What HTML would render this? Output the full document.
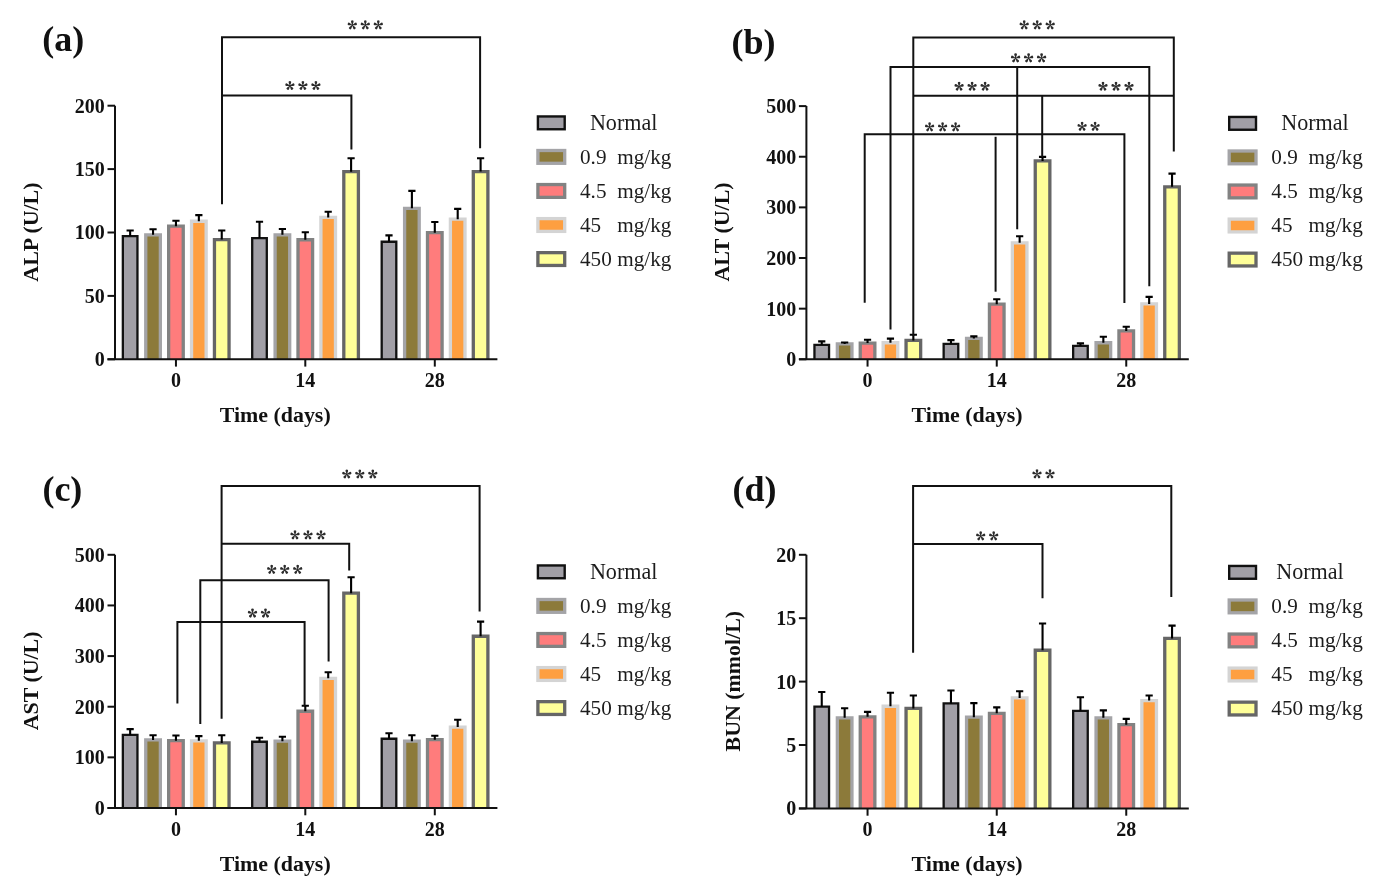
<!DOCTYPE html>
<html><head><meta charset="utf-8"><style>
html,body{margin:0;padding:0;background:#fff;-webkit-font-smoothing:antialiased;}
svg{display:block;will-change:transform;}
text{font-family:"Liberation Serif",serif;fill:#111;}
.tk{font-weight:bold;font-size:20px;}
.lab{font-weight:bold;font-size:21.9px;}
.ttl{font-weight:bold;font-size:36px;}
.lg{font-size:21.2px;fill:#1c1c1c;}
.lgn{font-size:22.1px;fill:#1c1c1c;}
</style></head><body>
<svg width="1384" height="887" viewBox="0 0 1384 887">
<rect width="1384" height="887" fill="#fff"/>
<path d="M122.85,359.30V236.05H137.45V359.30" fill="#a19fa6" stroke="#111111" stroke-width="2.3"/>
<path d="M145.75,359.30V234.85H160.35V359.30" fill="#8c7a3a" stroke="#a4a4a7" stroke-width="3.3"/>
<path d="M168.65,359.30V226.15H183.25V359.30" fill="#ff7c7c" stroke="#828282" stroke-width="3.3"/>
<path d="M191.55,359.30V221.25H206.15V359.30" fill="#fe9f40" stroke="#d4d4d4" stroke-width="3.3"/>
<path d="M214.45,359.30V239.55H229.05V359.30" fill="#ffff99" stroke="#666666" stroke-width="3.3"/>
<path d="M252.20,359.30V238.05H266.80V359.30" fill="#a19fa6" stroke="#111111" stroke-width="2.3"/>
<path d="M275.10,359.30V234.85H289.70V359.30" fill="#8c7a3a" stroke="#a4a4a7" stroke-width="3.3"/>
<path d="M298.00,359.30V239.75H312.60V359.30" fill="#ff7c7c" stroke="#828282" stroke-width="3.3"/>
<path d="M320.90,359.30V217.45H335.50V359.30" fill="#fe9f40" stroke="#d4d4d4" stroke-width="3.3"/>
<path d="M343.80,359.30V171.65H358.40V359.30" fill="#ffff99" stroke="#666666" stroke-width="3.3"/>
<path d="M381.70,359.30V241.75H396.30V359.30" fill="#a19fa6" stroke="#111111" stroke-width="2.3"/>
<path d="M404.60,359.30V208.35H419.20V359.30" fill="#8c7a3a" stroke="#a4a4a7" stroke-width="3.3"/>
<path d="M427.50,359.30V232.65H442.10V359.30" fill="#ff7c7c" stroke="#828282" stroke-width="3.3"/>
<path d="M450.40,359.30V219.15H465.00V359.30" fill="#fe9f40" stroke="#d4d4d4" stroke-width="3.3"/>
<path d="M473.30,359.30V171.55H487.90V359.30" fill="#ffff99" stroke="#666666" stroke-width="3.3"/>
<path d="M130.15,236.05V230.50M126.55,230.50H133.75" stroke="#000" stroke-width="2.1" fill="none"/>
<path d="M153.05,234.85V229.30M149.45,229.30H156.65" stroke="#000" stroke-width="2.1" fill="none"/>
<path d="M175.95,226.15V220.80M172.35,220.80H179.55" stroke="#000" stroke-width="2.1" fill="none"/>
<path d="M198.85,221.25V215.10M195.25,215.10H202.45" stroke="#000" stroke-width="2.1" fill="none"/>
<path d="M221.75,239.55V230.50M218.15,230.50H225.35" stroke="#000" stroke-width="2.1" fill="none"/>
<path d="M259.50,238.05V221.70M255.90,221.70H263.10" stroke="#000" stroke-width="2.1" fill="none"/>
<path d="M282.40,234.85V229.00M278.80,229.00H286.00" stroke="#000" stroke-width="2.1" fill="none"/>
<path d="M305.30,239.75V232.20M301.70,232.20H308.90" stroke="#000" stroke-width="2.1" fill="none"/>
<path d="M328.20,217.45V211.80M324.60,211.80H331.80" stroke="#000" stroke-width="2.1" fill="none"/>
<path d="M351.10,171.65V158.30M347.50,158.30H354.70" stroke="#000" stroke-width="2.1" fill="none"/>
<path d="M389.00,241.75V235.40M385.40,235.40H392.60" stroke="#000" stroke-width="2.1" fill="none"/>
<path d="M411.90,208.35V190.90M408.30,190.90H415.50" stroke="#000" stroke-width="2.1" fill="none"/>
<path d="M434.80,232.65V222.00M431.20,222.00H438.40" stroke="#000" stroke-width="2.1" fill="none"/>
<path d="M457.70,219.15V208.90M454.10,208.90H461.30" stroke="#000" stroke-width="2.1" fill="none"/>
<path d="M480.60,171.55V158.30M477.00,158.30H484.20" stroke="#000" stroke-width="2.1" fill="none"/>
<path d="M115.00,105.70V359.30M107.50,359.30H497.40" stroke="#111" stroke-width="2.0" fill="none"/>
<path d="M107.50,359.30H115.00" stroke="#111" stroke-width="2.0"/>
<text x="104.80" y="366.20" text-anchor="end" class="tk">0</text>
<path d="M107.50,295.90H115.00" stroke="#111" stroke-width="2.0"/>
<text x="104.80" y="302.80" text-anchor="end" class="tk">50</text>
<path d="M107.50,232.50H115.00" stroke="#111" stroke-width="2.0"/>
<text x="104.80" y="239.40" text-anchor="end" class="tk">100</text>
<path d="M107.50,169.10H115.00" stroke="#111" stroke-width="2.0"/>
<text x="104.80" y="176.00" text-anchor="end" class="tk">150</text>
<path d="M107.50,105.70H115.00" stroke="#111" stroke-width="2.0"/>
<text x="104.80" y="112.60" text-anchor="end" class="tk">200</text>
<path d="M175.95,359.30V366.60" stroke="#111" stroke-width="2.0"/>
<text x="175.95" y="386.90" text-anchor="middle" class="tk">0</text>
<path d="M305.30,359.30V366.60" stroke="#111" stroke-width="2.0"/>
<text x="305.30" y="386.90" text-anchor="middle" class="tk">14</text>
<path d="M434.80,359.30V366.60" stroke="#111" stroke-width="2.0"/>
<text x="434.80" y="386.90" text-anchor="middle" class="tk">28</text>
<path d="M222.00,204.20L222.00,37.20L480.10,37.20L480.10,148.30" stroke="#111" stroke-width="2" fill="none" stroke-linejoin="miter"/>
<path d="M222.00,95.60L351.40,95.60L351.40,149.60" stroke="#111" stroke-width="2" fill="none" stroke-linejoin="miter"/>
<path d="M352.45,25.15L353.53,22.08A1.3,1.3 0 1 0 351.07,22.08L352.15,25.15ZM352.35,25.29L355.60,25.37A1.3,1.3 0 1 0 354.84,23.03L352.25,25.01ZM352.18,25.24L353.11,28.36A1.3,1.3 0 1 0 355.10,26.91L352.42,25.06ZM352.18,25.06L349.50,26.91A1.3,1.3 0 1 0 351.49,28.36L352.42,25.24ZM352.35,25.01L349.76,23.03A1.3,1.3 0 1 0 349.00,25.37L352.25,25.29ZM365.45,25.15L366.53,22.08A1.3,1.3 0 1 0 364.07,22.08L365.15,25.15ZM365.35,25.29L368.60,25.37A1.3,1.3 0 1 0 367.84,23.03L365.25,25.01ZM365.18,25.24L366.11,28.36A1.3,1.3 0 1 0 368.10,26.91L365.42,25.06ZM365.18,25.06L362.50,26.91A1.3,1.3 0 1 0 364.49,28.36L365.42,25.24ZM365.35,25.01L362.76,23.03A1.3,1.3 0 1 0 362.00,25.37L365.25,25.29ZM378.45,25.15L379.53,22.08A1.3,1.3 0 1 0 377.07,22.08L378.15,25.15ZM378.35,25.29L381.60,25.37A1.3,1.3 0 1 0 380.84,23.03L378.25,25.01ZM378.18,25.24L379.11,28.36A1.3,1.3 0 1 0 381.10,26.91L378.42,25.06ZM378.18,25.06L375.50,26.91A1.3,1.3 0 1 0 377.49,28.36L378.42,25.24ZM378.35,25.01L375.76,23.03A1.3,1.3 0 1 0 375.00,25.37L378.25,25.29Z" fill="#2c2c2c"/>
<path d="M290.05,85.75L291.13,82.68A1.3,1.3 0 1 0 288.67,82.68L289.75,85.75ZM289.95,85.89L293.20,85.97A1.3,1.3 0 1 0 292.44,83.63L289.85,85.61ZM289.78,85.84L290.71,88.96A1.3,1.3 0 1 0 292.70,87.51L290.02,85.66ZM289.78,85.66L287.10,87.51A1.3,1.3 0 1 0 289.09,88.96L290.02,85.84ZM289.95,85.61L287.36,83.63A1.3,1.3 0 1 0 286.60,85.97L289.85,85.89ZM303.05,85.75L304.13,82.68A1.3,1.3 0 1 0 301.67,82.68L302.75,85.75ZM302.95,85.89L306.20,85.97A1.3,1.3 0 1 0 305.44,83.63L302.85,85.61ZM302.78,85.84L303.71,88.96A1.3,1.3 0 1 0 305.70,87.51L303.02,85.66ZM302.78,85.66L300.10,87.51A1.3,1.3 0 1 0 302.09,88.96L303.02,85.84ZM302.95,85.61L300.36,83.63A1.3,1.3 0 1 0 299.60,85.97L302.85,85.89ZM316.05,85.75L317.13,82.68A1.3,1.3 0 1 0 314.67,82.68L315.75,85.75ZM315.95,85.89L319.20,85.97A1.3,1.3 0 1 0 318.44,83.63L315.85,85.61ZM315.78,85.84L316.71,88.96A1.3,1.3 0 1 0 318.70,87.51L316.02,85.66ZM315.78,85.66L313.10,87.51A1.3,1.3 0 1 0 315.09,88.96L316.02,85.84ZM315.95,85.61L313.36,83.63A1.3,1.3 0 1 0 312.60,85.97L315.85,85.89Z" fill="#2c2c2c"/>
<text x="42.30" y="51.30" class="ttl">(a)</text>
<text transform="translate(38.30,232.10) rotate(-90)" text-anchor="middle" class="lab">ALP (U/L)</text>
<text x="219.80" y="422.20" class="lab">Time (days)</text>
<rect x="537.90" y="116.45" width="26.8" height="12.8" fill="#a19fa6" stroke="#111111" stroke-width="2.4"/>
<text x="589.90" y="129.75" class="lgn">Normal</text>
<rect x="537.90" y="150.50" width="26.8" height="12.8" fill="#8c7a3a" stroke="#a4a4a7" stroke-width="3.3"/>
<text x="580.00" y="163.80" class="lg">0.9</text>
<text x="617.30" y="163.80" class="lg">mg/kg</text>
<rect x="537.90" y="184.55" width="26.8" height="12.8" fill="#ff7c7c" stroke="#828282" stroke-width="3.3"/>
<text x="580.00" y="197.85" class="lg">4.5</text>
<text x="617.30" y="197.85" class="lg">mg/kg</text>
<rect x="537.90" y="218.60" width="26.8" height="12.8" fill="#fe9f40" stroke="#d4d4d4" stroke-width="3.3"/>
<text x="580.00" y="231.90" class="lg">45</text>
<text x="617.30" y="231.90" class="lg">mg/kg</text>
<rect x="537.90" y="252.65" width="26.8" height="12.8" fill="#ffff99" stroke="#666666" stroke-width="3.3"/>
<text x="580.00" y="265.95" class="lg">450</text>
<text x="617.30" y="265.95" class="lg">mg/kg</text>
<path d="M814.45,359.30V344.85H829.05V359.30" fill="#a19fa6" stroke="#111111" stroke-width="2.3"/>
<path d="M837.35,359.30V343.95H851.95V359.30" fill="#8c7a3a" stroke="#a4a4a7" stroke-width="3.3"/>
<path d="M860.25,359.30V343.05H874.85V359.30" fill="#ff7c7c" stroke="#828282" stroke-width="3.3"/>
<path d="M883.15,359.30V342.75H897.75V359.30" fill="#fe9f40" stroke="#d4d4d4" stroke-width="3.3"/>
<path d="M906.05,359.30V340.45H920.65V359.30" fill="#ffff99" stroke="#666666" stroke-width="3.3"/>
<path d="M943.65,359.30V343.85H958.25V359.30" fill="#a19fa6" stroke="#111111" stroke-width="2.3"/>
<path d="M966.55,359.30V338.45H981.15V359.30" fill="#8c7a3a" stroke="#a4a4a7" stroke-width="3.3"/>
<path d="M989.45,359.30V304.15H1004.05V359.30" fill="#ff7c7c" stroke="#828282" stroke-width="3.3"/>
<path d="M1012.35,359.30V242.85H1026.95V359.30" fill="#fe9f40" stroke="#d4d4d4" stroke-width="3.3"/>
<path d="M1035.25,359.30V160.95H1049.85V359.30" fill="#ffff99" stroke="#666666" stroke-width="3.3"/>
<path d="M1073.15,359.30V345.95H1087.75V359.30" fill="#a19fa6" stroke="#111111" stroke-width="2.3"/>
<path d="M1096.05,359.30V342.75H1110.65V359.30" fill="#8c7a3a" stroke="#a4a4a7" stroke-width="3.3"/>
<path d="M1118.95,359.30V330.95H1133.55V359.30" fill="#ff7c7c" stroke="#828282" stroke-width="3.3"/>
<path d="M1141.85,359.30V303.95H1156.45V359.30" fill="#fe9f40" stroke="#d4d4d4" stroke-width="3.3"/>
<path d="M1164.75,359.30V186.85H1179.35V359.30" fill="#ffff99" stroke="#666666" stroke-width="3.3"/>
<path d="M821.75,344.85V341.40M818.15,341.40H825.35" stroke="#000" stroke-width="2.1" fill="none"/>
<path d="M844.65,343.95V342.50M841.05,342.50H848.25" stroke="#000" stroke-width="2.1" fill="none"/>
<path d="M867.55,343.05V339.70M863.95,339.70H871.15" stroke="#000" stroke-width="2.1" fill="none"/>
<path d="M890.45,342.75V338.60M886.85,338.60H894.05" stroke="#000" stroke-width="2.1" fill="none"/>
<path d="M913.35,340.45V334.80M909.75,334.80H916.95" stroke="#000" stroke-width="2.1" fill="none"/>
<path d="M950.95,343.85V340.10M947.35,340.10H954.55" stroke="#000" stroke-width="2.1" fill="none"/>
<path d="M973.85,338.45V336.40M970.25,336.40H977.45" stroke="#000" stroke-width="2.1" fill="none"/>
<path d="M996.75,304.15V299.30M993.15,299.30H1000.35" stroke="#000" stroke-width="2.1" fill="none"/>
<path d="M1019.65,242.85V236.30M1016.05,236.30H1023.25" stroke="#000" stroke-width="2.1" fill="none"/>
<path d="M1042.55,160.95V156.90M1038.95,156.90H1046.15" stroke="#000" stroke-width="2.1" fill="none"/>
<path d="M1080.45,345.95V343.40M1076.85,343.40H1084.05" stroke="#000" stroke-width="2.1" fill="none"/>
<path d="M1103.35,342.75V336.80M1099.75,336.80H1106.95" stroke="#000" stroke-width="2.1" fill="none"/>
<path d="M1126.25,330.95V326.70M1122.65,326.70H1129.85" stroke="#000" stroke-width="2.1" fill="none"/>
<path d="M1149.15,303.95V296.90M1145.55,296.90H1152.75" stroke="#000" stroke-width="2.1" fill="none"/>
<path d="M1172.05,186.85V173.60M1168.45,173.60H1175.65" stroke="#000" stroke-width="2.1" fill="none"/>
<path d="M806.40,106.10V359.30M798.90,359.30H1188.80" stroke="#111" stroke-width="2.0" fill="none"/>
<path d="M798.90,359.30H806.40" stroke="#111" stroke-width="2.0"/>
<text x="796.20" y="366.20" text-anchor="end" class="tk">0</text>
<path d="M798.90,308.66H806.40" stroke="#111" stroke-width="2.0"/>
<text x="796.20" y="315.56" text-anchor="end" class="tk">100</text>
<path d="M798.90,258.02H806.40" stroke="#111" stroke-width="2.0"/>
<text x="796.20" y="264.92" text-anchor="end" class="tk">200</text>
<path d="M798.90,207.38H806.40" stroke="#111" stroke-width="2.0"/>
<text x="796.20" y="214.28" text-anchor="end" class="tk">300</text>
<path d="M798.90,156.74H806.40" stroke="#111" stroke-width="2.0"/>
<text x="796.20" y="163.64" text-anchor="end" class="tk">400</text>
<path d="M798.90,106.10H806.40" stroke="#111" stroke-width="2.0"/>
<text x="796.20" y="113.00" text-anchor="end" class="tk">500</text>
<path d="M867.55,359.30V366.60" stroke="#111" stroke-width="2.0"/>
<text x="867.55" y="386.90" text-anchor="middle" class="tk">0</text>
<path d="M996.75,359.30V366.60" stroke="#111" stroke-width="2.0"/>
<text x="996.75" y="386.90" text-anchor="middle" class="tk">14</text>
<path d="M1126.25,359.30V366.60" stroke="#111" stroke-width="2.0"/>
<text x="1126.25" y="386.90" text-anchor="middle" class="tk">28</text>
<path d="M913.30,336.00L913.30,37.40L1173.80,37.40L1173.80,151.60" stroke="#111" stroke-width="2" fill="none" stroke-linejoin="miter"/>
<path d="M890.50,329.50L890.50,67.10L1149.30,67.10L1149.30,286.30" stroke="#111" stroke-width="2" fill="none" stroke-linejoin="miter"/>
<path d="M1017.20,67.10L1017.20,229.30" stroke="#111" stroke-width="2" fill="none" stroke-linejoin="miter"/>
<path d="M913.40,95.70L1173.80,95.70" stroke="#111" stroke-width="2" fill="none" stroke-linejoin="miter"/>
<path d="M1042.20,95.70L1042.20,157.00" stroke="#111" stroke-width="2" fill="none" stroke-linejoin="miter"/>
<path d="M864.70,302.70L864.70,134.20L1124.40,134.20L1124.40,303.00" stroke="#111" stroke-width="2" fill="none" stroke-linejoin="miter"/>
<path d="M995.60,136.80L995.60,291.70" stroke="#111" stroke-width="2" fill="none" stroke-linejoin="miter"/>
<path d="M1024.35,25.15L1025.43,22.08A1.3,1.3 0 1 0 1022.97,22.08L1024.05,25.15ZM1024.25,25.29L1027.50,25.37A1.3,1.3 0 1 0 1026.74,23.03L1024.15,25.01ZM1024.08,25.24L1025.01,28.36A1.3,1.3 0 1 0 1027.00,26.91L1024.32,25.06ZM1024.08,25.06L1021.40,26.91A1.3,1.3 0 1 0 1023.39,28.36L1024.32,25.24ZM1024.25,25.01L1021.66,23.03A1.3,1.3 0 1 0 1020.90,25.37L1024.15,25.29ZM1037.35,25.15L1038.43,22.08A1.3,1.3 0 1 0 1035.97,22.08L1037.05,25.15ZM1037.25,25.29L1040.50,25.37A1.3,1.3 0 1 0 1039.74,23.03L1037.15,25.01ZM1037.08,25.24L1038.01,28.36A1.3,1.3 0 1 0 1040.00,26.91L1037.32,25.06ZM1037.08,25.06L1034.40,26.91A1.3,1.3 0 1 0 1036.39,28.36L1037.32,25.24ZM1037.25,25.01L1034.66,23.03A1.3,1.3 0 1 0 1033.90,25.37L1037.15,25.29ZM1050.35,25.15L1051.43,22.08A1.3,1.3 0 1 0 1048.97,22.08L1050.05,25.15ZM1050.25,25.29L1053.50,25.37A1.3,1.3 0 1 0 1052.74,23.03L1050.15,25.01ZM1050.08,25.24L1051.01,28.36A1.3,1.3 0 1 0 1053.00,26.91L1050.32,25.06ZM1050.08,25.06L1047.40,26.91A1.3,1.3 0 1 0 1049.39,28.36L1050.32,25.24ZM1050.25,25.01L1047.66,23.03A1.3,1.3 0 1 0 1046.90,25.37L1050.15,25.29Z" fill="#2c2c2c"/>
<path d="M1015.75,58.15L1016.83,55.08A1.3,1.3 0 1 0 1014.37,55.08L1015.45,58.15ZM1015.65,58.29L1018.90,58.37A1.3,1.3 0 1 0 1018.14,56.03L1015.55,58.01ZM1015.48,58.24L1016.41,61.36A1.3,1.3 0 1 0 1018.40,59.91L1015.72,58.06ZM1015.48,58.06L1012.80,59.91A1.3,1.3 0 1 0 1014.79,61.36L1015.72,58.24ZM1015.65,58.01L1013.06,56.03A1.3,1.3 0 1 0 1012.30,58.37L1015.55,58.29ZM1028.75,58.15L1029.83,55.08A1.3,1.3 0 1 0 1027.37,55.08L1028.45,58.15ZM1028.65,58.29L1031.90,58.37A1.3,1.3 0 1 0 1031.14,56.03L1028.55,58.01ZM1028.48,58.24L1029.41,61.36A1.3,1.3 0 1 0 1031.40,59.91L1028.72,58.06ZM1028.48,58.06L1025.80,59.91A1.3,1.3 0 1 0 1027.79,61.36L1028.72,58.24ZM1028.65,58.01L1026.06,56.03A1.3,1.3 0 1 0 1025.30,58.37L1028.55,58.29ZM1041.75,58.15L1042.83,55.08A1.3,1.3 0 1 0 1040.37,55.08L1041.45,58.15ZM1041.65,58.29L1044.90,58.37A1.3,1.3 0 1 0 1044.14,56.03L1041.55,58.01ZM1041.48,58.24L1042.41,61.36A1.3,1.3 0 1 0 1044.40,59.91L1041.72,58.06ZM1041.48,58.06L1038.80,59.91A1.3,1.3 0 1 0 1040.79,61.36L1041.72,58.24ZM1041.65,58.01L1039.06,56.03A1.3,1.3 0 1 0 1038.30,58.37L1041.55,58.29Z" fill="#2c2c2c"/>
<path d="M959.25,86.45L960.33,83.38A1.3,1.3 0 1 0 957.87,83.38L958.95,86.45ZM959.15,86.59L962.40,86.67A1.3,1.3 0 1 0 961.64,84.33L959.05,86.31ZM958.98,86.54L959.91,89.66A1.3,1.3 0 1 0 961.90,88.21L959.22,86.36ZM958.98,86.36L956.30,88.21A1.3,1.3 0 1 0 958.29,89.66L959.22,86.54ZM959.15,86.31L956.56,84.33A1.3,1.3 0 1 0 955.80,86.67L959.05,86.59ZM972.25,86.45L973.33,83.38A1.3,1.3 0 1 0 970.87,83.38L971.95,86.45ZM972.15,86.59L975.40,86.67A1.3,1.3 0 1 0 974.64,84.33L972.05,86.31ZM971.98,86.54L972.91,89.66A1.3,1.3 0 1 0 974.90,88.21L972.22,86.36ZM971.98,86.36L969.30,88.21A1.3,1.3 0 1 0 971.29,89.66L972.22,86.54ZM972.15,86.31L969.56,84.33A1.3,1.3 0 1 0 968.80,86.67L972.05,86.59ZM985.25,86.45L986.33,83.38A1.3,1.3 0 1 0 983.87,83.38L984.95,86.45ZM985.15,86.59L988.40,86.67A1.3,1.3 0 1 0 987.64,84.33L985.05,86.31ZM984.98,86.54L985.91,89.66A1.3,1.3 0 1 0 987.90,88.21L985.22,86.36ZM984.98,86.36L982.30,88.21A1.3,1.3 0 1 0 984.29,89.66L985.22,86.54ZM985.15,86.31L982.56,84.33A1.3,1.3 0 1 0 981.80,86.67L985.05,86.59Z" fill="#2c2c2c"/>
<path d="M1103.15,86.45L1104.23,83.38A1.3,1.3 0 1 0 1101.77,83.38L1102.85,86.45ZM1103.05,86.59L1106.30,86.67A1.3,1.3 0 1 0 1105.54,84.33L1102.95,86.31ZM1102.88,86.54L1103.81,89.66A1.3,1.3 0 1 0 1105.80,88.21L1103.12,86.36ZM1102.88,86.36L1100.20,88.21A1.3,1.3 0 1 0 1102.19,89.66L1103.12,86.54ZM1103.05,86.31L1100.46,84.33A1.3,1.3 0 1 0 1099.70,86.67L1102.95,86.59ZM1116.15,86.45L1117.23,83.38A1.3,1.3 0 1 0 1114.77,83.38L1115.85,86.45ZM1116.05,86.59L1119.30,86.67A1.3,1.3 0 1 0 1118.54,84.33L1115.95,86.31ZM1115.88,86.54L1116.81,89.66A1.3,1.3 0 1 0 1118.80,88.21L1116.12,86.36ZM1115.88,86.36L1113.20,88.21A1.3,1.3 0 1 0 1115.19,89.66L1116.12,86.54ZM1116.05,86.31L1113.46,84.33A1.3,1.3 0 1 0 1112.70,86.67L1115.95,86.59ZM1129.15,86.45L1130.23,83.38A1.3,1.3 0 1 0 1127.77,83.38L1128.85,86.45ZM1129.05,86.59L1132.30,86.67A1.3,1.3 0 1 0 1131.54,84.33L1128.95,86.31ZM1128.88,86.54L1129.81,89.66A1.3,1.3 0 1 0 1131.80,88.21L1129.12,86.36ZM1128.88,86.36L1126.20,88.21A1.3,1.3 0 1 0 1128.19,89.66L1129.12,86.54ZM1129.05,86.31L1126.46,84.33A1.3,1.3 0 1 0 1125.70,86.67L1128.95,86.59Z" fill="#2c2c2c"/>
<path d="M929.75,127.15L930.83,124.08A1.3,1.3 0 1 0 928.37,124.08L929.45,127.15ZM929.65,127.29L932.90,127.37A1.3,1.3 0 1 0 932.14,125.03L929.55,127.01ZM929.48,127.24L930.41,130.36A1.3,1.3 0 1 0 932.40,128.91L929.72,127.06ZM929.48,127.06L926.80,128.91A1.3,1.3 0 1 0 928.79,130.36L929.72,127.24ZM929.65,127.01L927.06,125.03A1.3,1.3 0 1 0 926.30,127.37L929.55,127.29ZM942.75,127.15L943.83,124.08A1.3,1.3 0 1 0 941.37,124.08L942.45,127.15ZM942.65,127.29L945.90,127.37A1.3,1.3 0 1 0 945.14,125.03L942.55,127.01ZM942.48,127.24L943.41,130.36A1.3,1.3 0 1 0 945.40,128.91L942.72,127.06ZM942.48,127.06L939.80,128.91A1.3,1.3 0 1 0 941.79,130.36L942.72,127.24ZM942.65,127.01L940.06,125.03A1.3,1.3 0 1 0 939.30,127.37L942.55,127.29ZM955.75,127.15L956.83,124.08A1.3,1.3 0 1 0 954.37,124.08L955.45,127.15ZM955.65,127.29L958.90,127.37A1.3,1.3 0 1 0 958.14,125.03L955.55,127.01ZM955.48,127.24L956.41,130.36A1.3,1.3 0 1 0 958.40,128.91L955.72,127.06ZM955.48,127.06L952.80,128.91A1.3,1.3 0 1 0 954.79,130.36L955.72,127.24ZM955.65,127.01L953.06,125.03A1.3,1.3 0 1 0 952.30,127.37L955.55,127.29Z" fill="#2c2c2c"/>
<path d="M1082.25,126.55L1083.33,123.48A1.3,1.3 0 1 0 1080.87,123.48L1081.95,126.55ZM1082.15,126.69L1085.40,126.77A1.3,1.3 0 1 0 1084.64,124.43L1082.05,126.41ZM1081.98,126.64L1082.91,129.76A1.3,1.3 0 1 0 1084.90,128.31L1082.22,126.46ZM1081.98,126.46L1079.30,128.31A1.3,1.3 0 1 0 1081.29,129.76L1082.22,126.64ZM1082.15,126.41L1079.56,124.43A1.3,1.3 0 1 0 1078.80,126.77L1082.05,126.69ZM1095.25,126.55L1096.33,123.48A1.3,1.3 0 1 0 1093.87,123.48L1094.95,126.55ZM1095.15,126.69L1098.40,126.77A1.3,1.3 0 1 0 1097.64,124.43L1095.05,126.41ZM1094.98,126.64L1095.91,129.76A1.3,1.3 0 1 0 1097.90,128.31L1095.22,126.46ZM1094.98,126.46L1092.30,128.31A1.3,1.3 0 1 0 1094.29,129.76L1095.22,126.64ZM1095.15,126.41L1092.56,124.43A1.3,1.3 0 1 0 1091.80,126.77L1095.05,126.69Z" fill="#2c2c2c"/>
<text x="731.50" y="54.00" class="ttl">(b)</text>
<text transform="translate(729.30,232.00) rotate(-90)" text-anchor="middle" class="lab">ALT (U/L)</text>
<text x="911.60" y="422.20" class="lab">Time (days)</text>
<rect x="1229.20" y="116.95" width="26.8" height="12.8" fill="#a19fa6" stroke="#111111" stroke-width="2.4"/>
<text x="1281.20" y="130.25" class="lgn">Normal</text>
<rect x="1229.20" y="151.00" width="26.8" height="12.8" fill="#8c7a3a" stroke="#a4a4a7" stroke-width="3.3"/>
<text x="1271.30" y="164.30" class="lg">0.9</text>
<text x="1308.60" y="164.30" class="lg">mg/kg</text>
<rect x="1229.20" y="185.05" width="26.8" height="12.8" fill="#ff7c7c" stroke="#828282" stroke-width="3.3"/>
<text x="1271.30" y="198.35" class="lg">4.5</text>
<text x="1308.60" y="198.35" class="lg">mg/kg</text>
<rect x="1229.20" y="219.10" width="26.8" height="12.8" fill="#fe9f40" stroke="#d4d4d4" stroke-width="3.3"/>
<text x="1271.30" y="232.40" class="lg">45</text>
<text x="1308.60" y="232.40" class="lg">mg/kg</text>
<rect x="1229.20" y="253.15" width="26.8" height="12.8" fill="#ffff99" stroke="#666666" stroke-width="3.3"/>
<text x="1271.30" y="266.45" class="lg">450</text>
<text x="1308.60" y="266.45" class="lg">mg/kg</text>
<path d="M122.85,808.00V734.95H137.45V808.00" fill="#a19fa6" stroke="#111111" stroke-width="2.3"/>
<path d="M145.75,808.00V739.95H160.35V808.00" fill="#8c7a3a" stroke="#a4a4a7" stroke-width="3.3"/>
<path d="M168.65,808.00V740.65H183.25V808.00" fill="#ff7c7c" stroke="#828282" stroke-width="3.3"/>
<path d="M191.55,808.00V740.85H206.15V808.00" fill="#fe9f40" stroke="#d4d4d4" stroke-width="3.3"/>
<path d="M214.45,808.00V742.95H229.05V808.00" fill="#ffff99" stroke="#666666" stroke-width="3.3"/>
<path d="M252.20,808.00V741.75H266.80V808.00" fill="#a19fa6" stroke="#111111" stroke-width="2.3"/>
<path d="M275.10,808.00V741.15H289.70V808.00" fill="#8c7a3a" stroke="#a4a4a7" stroke-width="3.3"/>
<path d="M298.00,808.00V711.25H312.60V808.00" fill="#ff7c7c" stroke="#828282" stroke-width="3.3"/>
<path d="M320.90,808.00V678.35H335.50V808.00" fill="#fe9f40" stroke="#d4d4d4" stroke-width="3.3"/>
<path d="M343.80,808.00V593.15H358.40V808.00" fill="#ffff99" stroke="#666666" stroke-width="3.3"/>
<path d="M381.70,808.00V738.75H396.30V808.00" fill="#a19fa6" stroke="#111111" stroke-width="2.3"/>
<path d="M404.60,808.00V741.15H419.20V808.00" fill="#8c7a3a" stroke="#a4a4a7" stroke-width="3.3"/>
<path d="M427.50,808.00V739.65H442.10V808.00" fill="#ff7c7c" stroke="#828282" stroke-width="3.3"/>
<path d="M450.40,808.00V727.05H465.00V808.00" fill="#fe9f40" stroke="#d4d4d4" stroke-width="3.3"/>
<path d="M473.30,808.00V636.25H487.90V808.00" fill="#ffff99" stroke="#666666" stroke-width="3.3"/>
<path d="M130.15,734.95V729.10M126.55,729.10H133.75" stroke="#000" stroke-width="2.1" fill="none"/>
<path d="M153.05,739.95V735.20M149.45,735.20H156.65" stroke="#000" stroke-width="2.1" fill="none"/>
<path d="M175.95,740.65V735.50M172.35,735.50H179.55" stroke="#000" stroke-width="2.1" fill="none"/>
<path d="M198.85,740.85V736.10M195.25,736.10H202.45" stroke="#000" stroke-width="2.1" fill="none"/>
<path d="M221.75,742.95V735.20M218.15,735.20H225.35" stroke="#000" stroke-width="2.1" fill="none"/>
<path d="M259.50,741.75V737.80M255.90,737.80H263.10" stroke="#000" stroke-width="2.1" fill="none"/>
<path d="M282.40,741.15V736.70M278.80,736.70H286.00" stroke="#000" stroke-width="2.1" fill="none"/>
<path d="M305.30,711.25V705.70M301.70,705.70H308.90" stroke="#000" stroke-width="2.1" fill="none"/>
<path d="M328.20,678.35V672.20M324.60,672.20H331.80" stroke="#000" stroke-width="2.1" fill="none"/>
<path d="M351.10,593.15V577.30M347.50,577.30H354.70" stroke="#000" stroke-width="2.1" fill="none"/>
<path d="M389.00,738.75V733.30M385.40,733.30H392.60" stroke="#000" stroke-width="2.1" fill="none"/>
<path d="M411.90,741.15V735.20M408.30,735.20H415.50" stroke="#000" stroke-width="2.1" fill="none"/>
<path d="M434.80,739.65V735.70M431.20,735.70H438.40" stroke="#000" stroke-width="2.1" fill="none"/>
<path d="M457.70,727.05V719.70M454.10,719.70H461.30" stroke="#000" stroke-width="2.1" fill="none"/>
<path d="M480.60,636.25V621.60M477.00,621.60H484.20" stroke="#000" stroke-width="2.1" fill="none"/>
<path d="M115.00,554.80V808.00M107.50,808.00H497.40" stroke="#111" stroke-width="2.0" fill="none"/>
<path d="M107.50,808.00H115.00" stroke="#111" stroke-width="2.0"/>
<text x="104.80" y="814.90" text-anchor="end" class="tk">0</text>
<path d="M107.50,757.36H115.00" stroke="#111" stroke-width="2.0"/>
<text x="104.80" y="764.26" text-anchor="end" class="tk">100</text>
<path d="M107.50,706.72H115.00" stroke="#111" stroke-width="2.0"/>
<text x="104.80" y="713.62" text-anchor="end" class="tk">200</text>
<path d="M107.50,656.08H115.00" stroke="#111" stroke-width="2.0"/>
<text x="104.80" y="662.98" text-anchor="end" class="tk">300</text>
<path d="M107.50,605.44H115.00" stroke="#111" stroke-width="2.0"/>
<text x="104.80" y="612.34" text-anchor="end" class="tk">400</text>
<path d="M107.50,554.80H115.00" stroke="#111" stroke-width="2.0"/>
<text x="104.80" y="561.70" text-anchor="end" class="tk">500</text>
<path d="M175.95,808.00V815.30" stroke="#111" stroke-width="2.0"/>
<text x="175.95" y="835.60" text-anchor="middle" class="tk">0</text>
<path d="M305.30,808.00V815.30" stroke="#111" stroke-width="2.0"/>
<text x="305.30" y="835.60" text-anchor="middle" class="tk">14</text>
<path d="M434.80,808.00V815.30" stroke="#111" stroke-width="2.0"/>
<text x="434.80" y="835.60" text-anchor="middle" class="tk">28</text>
<path d="M221.60,718.80L221.60,486.00L479.60,486.00L479.60,611.50" stroke="#111" stroke-width="2" fill="none" stroke-linejoin="miter"/>
<path d="M221.60,543.80L349.20,543.80L349.20,570.60" stroke="#111" stroke-width="2" fill="none" stroke-linejoin="miter"/>
<path d="M200.30,723.90L200.30,580.20L328.60,580.20L328.60,661.50" stroke="#111" stroke-width="2" fill="none" stroke-linejoin="miter"/>
<path d="M177.40,703.50L177.40,622.00L304.60,622.00L304.60,706.00" stroke="#111" stroke-width="2" fill="none" stroke-linejoin="miter"/>
<path d="M346.95,474.25L348.03,471.18A1.3,1.3 0 1 0 345.57,471.18L346.65,474.25ZM346.85,474.39L350.10,474.47A1.3,1.3 0 1 0 349.34,472.13L346.75,474.11ZM346.68,474.34L347.61,477.46A1.3,1.3 0 1 0 349.60,476.01L346.92,474.16ZM346.68,474.16L344.00,476.01A1.3,1.3 0 1 0 345.99,477.46L346.92,474.34ZM346.85,474.11L344.26,472.13A1.3,1.3 0 1 0 343.50,474.47L346.75,474.39ZM359.95,474.25L361.03,471.18A1.3,1.3 0 1 0 358.57,471.18L359.65,474.25ZM359.85,474.39L363.10,474.47A1.3,1.3 0 1 0 362.34,472.13L359.75,474.11ZM359.68,474.34L360.61,477.46A1.3,1.3 0 1 0 362.60,476.01L359.92,474.16ZM359.68,474.16L357.00,476.01A1.3,1.3 0 1 0 358.99,477.46L359.92,474.34ZM359.85,474.11L357.26,472.13A1.3,1.3 0 1 0 356.50,474.47L359.75,474.39ZM372.95,474.25L374.03,471.18A1.3,1.3 0 1 0 371.57,471.18L372.65,474.25ZM372.85,474.39L376.10,474.47A1.3,1.3 0 1 0 375.34,472.13L372.75,474.11ZM372.68,474.34L373.61,477.46A1.3,1.3 0 1 0 375.60,476.01L372.92,474.16ZM372.68,474.16L370.00,476.01A1.3,1.3 0 1 0 371.99,477.46L372.92,474.34ZM372.85,474.11L370.26,472.13A1.3,1.3 0 1 0 369.50,474.47L372.75,474.39Z" fill="#2c2c2c"/>
<path d="M295.15,535.15L296.23,532.08A1.3,1.3 0 1 0 293.77,532.08L294.85,535.15ZM295.05,535.29L298.30,535.37A1.3,1.3 0 1 0 297.54,533.03L294.95,535.01ZM294.88,535.24L295.81,538.36A1.3,1.3 0 1 0 297.80,536.91L295.12,535.06ZM294.88,535.06L292.20,536.91A1.3,1.3 0 1 0 294.19,538.36L295.12,535.24ZM295.05,535.01L292.46,533.03A1.3,1.3 0 1 0 291.70,535.37L294.95,535.29ZM308.15,535.15L309.23,532.08A1.3,1.3 0 1 0 306.77,532.08L307.85,535.15ZM308.05,535.29L311.30,535.37A1.3,1.3 0 1 0 310.54,533.03L307.95,535.01ZM307.88,535.24L308.81,538.36A1.3,1.3 0 1 0 310.80,536.91L308.12,535.06ZM307.88,535.06L305.20,536.91A1.3,1.3 0 1 0 307.19,538.36L308.12,535.24ZM308.05,535.01L305.46,533.03A1.3,1.3 0 1 0 304.70,535.37L307.95,535.29ZM321.15,535.15L322.23,532.08A1.3,1.3 0 1 0 319.77,532.08L320.85,535.15ZM321.05,535.29L324.30,535.37A1.3,1.3 0 1 0 323.54,533.03L320.95,535.01ZM320.88,535.24L321.81,538.36A1.3,1.3 0 1 0 323.80,536.91L321.12,535.06ZM320.88,535.06L318.20,536.91A1.3,1.3 0 1 0 320.19,538.36L321.12,535.24ZM321.05,535.01L318.46,533.03A1.3,1.3 0 1 0 317.70,535.37L320.95,535.29Z" fill="#2c2c2c"/>
<path d="M271.85,569.65L272.93,566.58A1.3,1.3 0 1 0 270.47,566.58L271.55,569.65ZM271.75,569.79L275.00,569.87A1.3,1.3 0 1 0 274.24,567.53L271.65,569.51ZM271.58,569.74L272.51,572.86A1.3,1.3 0 1 0 274.50,571.41L271.82,569.56ZM271.58,569.56L268.90,571.41A1.3,1.3 0 1 0 270.89,572.86L271.82,569.74ZM271.75,569.51L269.16,567.53A1.3,1.3 0 1 0 268.40,569.87L271.65,569.79ZM284.85,569.65L285.93,566.58A1.3,1.3 0 1 0 283.47,566.58L284.55,569.65ZM284.75,569.79L288.00,569.87A1.3,1.3 0 1 0 287.24,567.53L284.65,569.51ZM284.58,569.74L285.51,572.86A1.3,1.3 0 1 0 287.50,571.41L284.82,569.56ZM284.58,569.56L281.90,571.41A1.3,1.3 0 1 0 283.89,572.86L284.82,569.74ZM284.75,569.51L282.16,567.53A1.3,1.3 0 1 0 281.40,569.87L284.65,569.79ZM297.85,569.65L298.93,566.58A1.3,1.3 0 1 0 296.47,566.58L297.55,569.65ZM297.75,569.79L301.00,569.87A1.3,1.3 0 1 0 300.24,567.53L297.65,569.51ZM297.58,569.74L298.51,572.86A1.3,1.3 0 1 0 300.50,571.41L297.82,569.56ZM297.58,569.56L294.90,571.41A1.3,1.3 0 1 0 296.89,572.86L297.82,569.74ZM297.75,569.51L295.16,567.53A1.3,1.3 0 1 0 294.40,569.87L297.65,569.79Z" fill="#2c2c2c"/>
<path d="M252.65,613.35L253.73,610.28A1.3,1.3 0 1 0 251.27,610.28L252.35,613.35ZM252.55,613.49L255.80,613.57A1.3,1.3 0 1 0 255.04,611.23L252.45,613.21ZM252.38,613.44L253.31,616.56A1.3,1.3 0 1 0 255.30,615.11L252.62,613.26ZM252.38,613.26L249.70,615.11A1.3,1.3 0 1 0 251.69,616.56L252.62,613.44ZM252.55,613.21L249.96,611.23A1.3,1.3 0 1 0 249.20,613.57L252.45,613.49ZM265.65,613.35L266.73,610.28A1.3,1.3 0 1 0 264.27,610.28L265.35,613.35ZM265.55,613.49L268.80,613.57A1.3,1.3 0 1 0 268.04,611.23L265.45,613.21ZM265.38,613.44L266.31,616.56A1.3,1.3 0 1 0 268.30,615.11L265.62,613.26ZM265.38,613.26L262.70,615.11A1.3,1.3 0 1 0 264.69,616.56L265.62,613.44ZM265.55,613.21L262.96,611.23A1.3,1.3 0 1 0 262.20,613.57L265.45,613.49Z" fill="#2c2c2c"/>
<text x="42.40" y="501.30" class="ttl">(c)</text>
<text transform="translate(38.20,680.90) rotate(-90)" text-anchor="middle" class="lab">AST (U/L)</text>
<text x="219.80" y="870.80" class="lab">Time (days)</text>
<rect x="537.90" y="565.45" width="26.8" height="12.8" fill="#a19fa6" stroke="#111111" stroke-width="2.4"/>
<text x="589.90" y="578.75" class="lgn">Normal</text>
<rect x="537.90" y="599.50" width="26.8" height="12.8" fill="#8c7a3a" stroke="#a4a4a7" stroke-width="3.3"/>
<text x="580.00" y="612.80" class="lg">0.9</text>
<text x="617.30" y="612.80" class="lg">mg/kg</text>
<rect x="537.90" y="633.55" width="26.8" height="12.8" fill="#ff7c7c" stroke="#828282" stroke-width="3.3"/>
<text x="580.00" y="646.85" class="lg">4.5</text>
<text x="617.30" y="646.85" class="lg">mg/kg</text>
<rect x="537.90" y="667.60" width="26.8" height="12.8" fill="#fe9f40" stroke="#d4d4d4" stroke-width="3.3"/>
<text x="580.00" y="680.90" class="lg">45</text>
<text x="617.30" y="680.90" class="lg">mg/kg</text>
<rect x="537.90" y="701.65" width="26.8" height="12.8" fill="#ffff99" stroke="#666666" stroke-width="3.3"/>
<text x="580.00" y="714.95" class="lg">450</text>
<text x="617.30" y="714.95" class="lg">mg/kg</text>
<path d="M814.45,808.40V706.65H829.05V808.40" fill="#a19fa6" stroke="#111111" stroke-width="2.3"/>
<path d="M837.35,808.40V717.85H851.95V808.40" fill="#8c7a3a" stroke="#a4a4a7" stroke-width="3.3"/>
<path d="M860.25,808.40V716.85H874.85V808.40" fill="#ff7c7c" stroke="#828282" stroke-width="3.3"/>
<path d="M883.15,808.40V706.25H897.75V808.40" fill="#fe9f40" stroke="#d4d4d4" stroke-width="3.3"/>
<path d="M906.05,808.40V708.45H920.65V808.40" fill="#ffff99" stroke="#666666" stroke-width="3.3"/>
<path d="M943.65,808.40V703.45H958.25V808.40" fill="#a19fa6" stroke="#111111" stroke-width="2.3"/>
<path d="M966.55,808.40V717.15H981.15V808.40" fill="#8c7a3a" stroke="#a4a4a7" stroke-width="3.3"/>
<path d="M989.45,808.40V713.35H1004.05V808.40" fill="#ff7c7c" stroke="#828282" stroke-width="3.3"/>
<path d="M1012.35,808.40V697.95H1026.95V808.40" fill="#fe9f40" stroke="#d4d4d4" stroke-width="3.3"/>
<path d="M1035.25,808.40V650.25H1049.85V808.40" fill="#ffff99" stroke="#666666" stroke-width="3.3"/>
<path d="M1073.15,808.40V710.85H1087.75V808.40" fill="#a19fa6" stroke="#111111" stroke-width="2.3"/>
<path d="M1096.05,808.40V717.85H1110.65V808.40" fill="#8c7a3a" stroke="#a4a4a7" stroke-width="3.3"/>
<path d="M1118.95,808.40V724.65H1133.55V808.40" fill="#ff7c7c" stroke="#828282" stroke-width="3.3"/>
<path d="M1141.85,808.40V700.55H1156.45V808.40" fill="#fe9f40" stroke="#d4d4d4" stroke-width="3.3"/>
<path d="M1164.75,808.40V638.45H1179.35V808.40" fill="#ffff99" stroke="#666666" stroke-width="3.3"/>
<path d="M821.75,706.65V692.00M818.15,692.00H825.35" stroke="#000" stroke-width="2.1" fill="none"/>
<path d="M844.65,717.85V708.20M841.05,708.20H848.25" stroke="#000" stroke-width="2.1" fill="none"/>
<path d="M867.55,716.85V711.90M863.95,711.90H871.15" stroke="#000" stroke-width="2.1" fill="none"/>
<path d="M890.45,706.25V692.70M886.85,692.70H894.05" stroke="#000" stroke-width="2.1" fill="none"/>
<path d="M913.35,708.45V695.50M909.75,695.50H916.95" stroke="#000" stroke-width="2.1" fill="none"/>
<path d="M950.95,703.45V690.50M947.35,690.50H954.55" stroke="#000" stroke-width="2.1" fill="none"/>
<path d="M973.85,717.15V703.10M970.25,703.10H977.45" stroke="#000" stroke-width="2.1" fill="none"/>
<path d="M996.75,713.35V707.40M993.15,707.40H1000.35" stroke="#000" stroke-width="2.1" fill="none"/>
<path d="M1019.65,697.95V691.20M1016.05,691.20H1023.25" stroke="#000" stroke-width="2.1" fill="none"/>
<path d="M1042.55,650.25V623.50M1038.95,623.50H1046.15" stroke="#000" stroke-width="2.1" fill="none"/>
<path d="M1080.45,710.85V697.30M1076.85,697.30H1084.05" stroke="#000" stroke-width="2.1" fill="none"/>
<path d="M1103.35,717.85V710.40M1099.75,710.40H1106.95" stroke="#000" stroke-width="2.1" fill="none"/>
<path d="M1126.25,724.65V718.90M1122.65,718.90H1129.85" stroke="#000" stroke-width="2.1" fill="none"/>
<path d="M1149.15,700.55V695.50M1145.55,695.50H1152.75" stroke="#000" stroke-width="2.1" fill="none"/>
<path d="M1172.05,638.45V625.60M1168.45,625.60H1175.65" stroke="#000" stroke-width="2.1" fill="none"/>
<path d="M806.40,554.80V808.40M798.90,808.40H1188.80" stroke="#111" stroke-width="2.0" fill="none"/>
<path d="M798.90,808.40H806.40" stroke="#111" stroke-width="2.0"/>
<text x="796.20" y="815.30" text-anchor="end" class="tk">0</text>
<path d="M798.90,745.00H806.40" stroke="#111" stroke-width="2.0"/>
<text x="796.20" y="751.90" text-anchor="end" class="tk">5</text>
<path d="M798.90,681.60H806.40" stroke="#111" stroke-width="2.0"/>
<text x="796.20" y="688.50" text-anchor="end" class="tk">10</text>
<path d="M798.90,618.20H806.40" stroke="#111" stroke-width="2.0"/>
<text x="796.20" y="625.10" text-anchor="end" class="tk">15</text>
<path d="M798.90,554.80H806.40" stroke="#111" stroke-width="2.0"/>
<text x="796.20" y="561.70" text-anchor="end" class="tk">20</text>
<path d="M867.55,808.40V815.70" stroke="#111" stroke-width="2.0"/>
<text x="867.55" y="836.00" text-anchor="middle" class="tk">0</text>
<path d="M996.75,808.40V815.70" stroke="#111" stroke-width="2.0"/>
<text x="996.75" y="836.00" text-anchor="middle" class="tk">14</text>
<path d="M1126.25,808.40V815.70" stroke="#111" stroke-width="2.0"/>
<text x="1126.25" y="836.00" text-anchor="middle" class="tk">28</text>
<path d="M913.10,652.80L913.10,485.90L1171.30,485.90L1171.30,597.10" stroke="#111" stroke-width="2" fill="none" stroke-linejoin="miter"/>
<path d="M913.10,544.10L1042.50,544.10L1042.50,598.20" stroke="#111" stroke-width="2" fill="none" stroke-linejoin="miter"/>
<path d="M1037.15,474.15L1038.23,471.08A1.3,1.3 0 1 0 1035.77,471.08L1036.85,474.15ZM1037.05,474.29L1040.30,474.37A1.3,1.3 0 1 0 1039.54,472.03L1036.95,474.01ZM1036.88,474.24L1037.81,477.36A1.3,1.3 0 1 0 1039.80,475.91L1037.12,474.06ZM1036.88,474.06L1034.20,475.91A1.3,1.3 0 1 0 1036.19,477.36L1037.12,474.24ZM1037.05,474.01L1034.46,472.03A1.3,1.3 0 1 0 1033.70,474.37L1036.95,474.29ZM1050.15,474.15L1051.23,471.08A1.3,1.3 0 1 0 1048.77,471.08L1049.85,474.15ZM1050.05,474.29L1053.30,474.37A1.3,1.3 0 1 0 1052.54,472.03L1049.95,474.01ZM1049.88,474.24L1050.81,477.36A1.3,1.3 0 1 0 1052.80,475.91L1050.12,474.06ZM1049.88,474.06L1047.20,475.91A1.3,1.3 0 1 0 1049.19,477.36L1050.12,474.24ZM1050.05,474.01L1047.46,472.03A1.3,1.3 0 1 0 1046.70,474.37L1049.95,474.29Z" fill="#2c2c2c"/>
<path d="M980.85,536.15L981.93,533.08A1.3,1.3 0 1 0 979.47,533.08L980.55,536.15ZM980.75,536.29L984.00,536.37A1.3,1.3 0 1 0 983.24,534.03L980.65,536.01ZM980.58,536.24L981.51,539.36A1.3,1.3 0 1 0 983.50,537.91L980.82,536.06ZM980.58,536.06L977.90,537.91A1.3,1.3 0 1 0 979.89,539.36L980.82,536.24ZM980.75,536.01L978.16,534.03A1.3,1.3 0 1 0 977.40,536.37L980.65,536.29ZM993.85,536.15L994.93,533.08A1.3,1.3 0 1 0 992.47,533.08L993.55,536.15ZM993.75,536.29L997.00,536.37A1.3,1.3 0 1 0 996.24,534.03L993.65,536.01ZM993.58,536.24L994.51,539.36A1.3,1.3 0 1 0 996.50,537.91L993.82,536.06ZM993.58,536.06L990.90,537.91A1.3,1.3 0 1 0 992.89,539.36L993.82,536.24ZM993.75,536.01L991.16,534.03A1.3,1.3 0 1 0 990.40,536.37L993.65,536.29Z" fill="#2c2c2c"/>
<text x="732.40" y="501.30" class="ttl">(d)</text>
<text transform="translate(739.60,681.20) rotate(-90)" text-anchor="middle" class="lab">BUN (mmol/L)</text>
<text x="911.60" y="870.80" class="lab">Time (days)</text>
<rect x="1229.20" y="565.95" width="26.8" height="12.8" fill="#a19fa6" stroke="#111111" stroke-width="2.4"/>
<text x="1276.20" y="579.25" class="lgn">Normal</text>
<rect x="1229.20" y="600.00" width="26.8" height="12.8" fill="#8c7a3a" stroke="#a4a4a7" stroke-width="3.3"/>
<text x="1271.30" y="613.30" class="lg">0.9</text>
<text x="1308.60" y="613.30" class="lg">mg/kg</text>
<rect x="1229.20" y="634.05" width="26.8" height="12.8" fill="#ff7c7c" stroke="#828282" stroke-width="3.3"/>
<text x="1271.30" y="647.35" class="lg">4.5</text>
<text x="1308.60" y="647.35" class="lg">mg/kg</text>
<rect x="1229.20" y="668.10" width="26.8" height="12.8" fill="#fe9f40" stroke="#d4d4d4" stroke-width="3.3"/>
<text x="1271.30" y="681.40" class="lg">45</text>
<text x="1308.60" y="681.40" class="lg">mg/kg</text>
<rect x="1229.20" y="702.15" width="26.8" height="12.8" fill="#ffff99" stroke="#666666" stroke-width="3.3"/>
<text x="1271.30" y="715.45" class="lg">450</text>
<text x="1308.60" y="715.45" class="lg">mg/kg</text>
</svg></body></html>
